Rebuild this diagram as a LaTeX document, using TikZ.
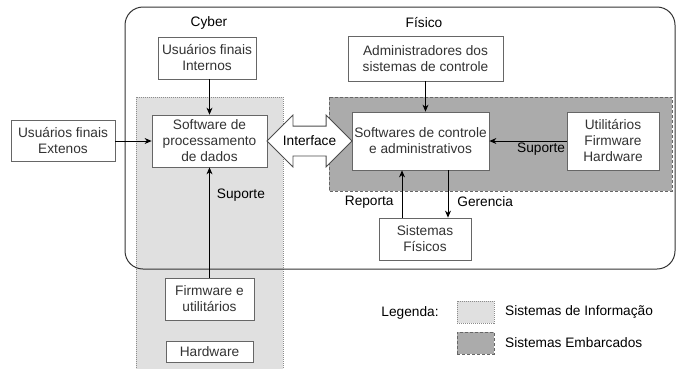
\documentclass[tikz,border=0pt]{standalone}
\usepackage{fontspec}
\setmainfont{Liberation Sans}
\usetikzlibrary{shapes, arrows.meta}
\definecolor{infoGray}{HTML}{E0E0E0}
\definecolor{embGray}{HTML}{ABABAB}
\newcommand\DrawLegend[4]{
	\node [#2, minimum width=37pt, minimum height=22pt] (leg_#1) at (475.5,#3){};
	\node [anchor=west] (leg_#1_text) at (503,#3) {#4};
}
\newcommand*{\xInfoMin}{136}
\newcommand*{\xInfoMax}{283}
\newcommand*{\xEmbMin}{329}
\newcommand*{\xEmbMax}{672}
\newcommand*{\yTop}{97}

\begin{document}
\begin{tikzpicture}[x=1pt, y=-1pt, >={Stealth[length=7pt, width=6pt]},
	every node/.style={font=\fontsize{13.7}{16}\selectfont, inner sep=2pt, align=center},
	box/.style={draw=black!60, fill=white, text=black!80, line width=0.8pt},
	info/.style={draw=black!45, fill=infoGray, dash pattern=on 1pt off 1pt},
	emb/.style={draw=black!60, fill=embGray, dash pattern=on 3pt off 2pt},
	link/.style={->, line width=0.8pt}]
	\useasboundingbox (0,0) rectangle (677,368);
% regions
	\path [info] (\xInfoMin,\yTop) rectangle (\xInfoMax,372);
	\path [emb] (\xEmbMin,\yTop) rectangle (\xEmbMax,191);
	\draw [black!80, line width=1pt, rounded corners=18pt] (125,7) rectangle (675,269);
	\node (lbl_cyber) at (209,23) {Cyber};
	\node (lbl_fisico) at (424,23) {Físico};
% cyber side
	\node [box, minimum width=98pt, minimum height=42pt] (box_intern) at (207,58) {Usuários finais\\Internos};
	\node [box, minimum width=115pt, minimum height=52pt] (box_proc) at (209.5,141) {Software de\\processamento\\de dados};
	\node [box, minimum width=104pt, minimum height=41pt] (box_extern) at (63,141) {Usuários finais\\Extenos};
	\node [box, minimum width=89pt, minimum height=42pt] (box_firm) at (209.5,299) {Firmware e\\utilitários};
	\node [box, minimum width=87pt, minimum height=21pt, inner sep=1pt] (box_hw) at (209.5,351.5) {Hardware};
% physical side
	\node [box, minimum width=155pt, minimum height=45pt] (box_admin) at (425.5,58.5) {Administradores dos\\sistemas de controle};
	\node [box, minimum width=137pt, minimum height=58pt, inner xsep=1pt] (box_ctrl) at (420.5,141) {Softwares de controle\\e administrativos};
	\node [box, minimum width=92pt, minimum height=58pt] (box_util) at (613,141) {Utilitários\\Firmware\\Hardware};
	\node [box, minimum width=92pt, minimum height=42pt] (box_fis) at (425,239) {Sistemas\\Físicos};
% connectors
	\draw [link] (box_intern.south -| box_proc) -- (box_proc.north);
	\draw [link] (box_extern) -- (box_proc);
	\draw [link] (box_firm) -- node [pos=0.75, right=5pt] (lbl_sup_info) {Suporte} (box_proc);
	\draw [link] (box_admin.south) -- (box_admin.south |- box_ctrl.north);
	\draw [link] (box_util) -- node [pos=0.33, below] (lbl_sup_emb) {Suporte} (box_ctrl);
	\draw [link] ([xshift=-23pt]box_fis.north) -- node [pos=0.33, left=6pt] (lbl_reporta) {Reporta} ([xshift=-23pt]box_fis.north |- box_ctrl.south);
	\draw [link] ([xshift=23pt]box_fis.north |- box_ctrl.south) -- node [pos=0.67, right=7pt] (lbl_gerencia) {Gerencia} ([xshift=23pt]box_fis.north);
	\node [draw=black!70, fill=white, line width=0.8pt, double arrow, double arrow head extend=11pt, minimum width=51pt, minimum height=85pt, inner xsep=1pt, inner ysep=14.5pt, label={center:Interface}] (iface) at (309.5,141) {};
% legend
	\node (lbl_legenda) at (410,313) {Legenda:};
	\DrawLegend{info}{info}{312}{Sistemas de Informação}
	\DrawLegend{emb}{emb}{343}{Sistemas Embarcados}
\end{tikzpicture}
\end{document}
